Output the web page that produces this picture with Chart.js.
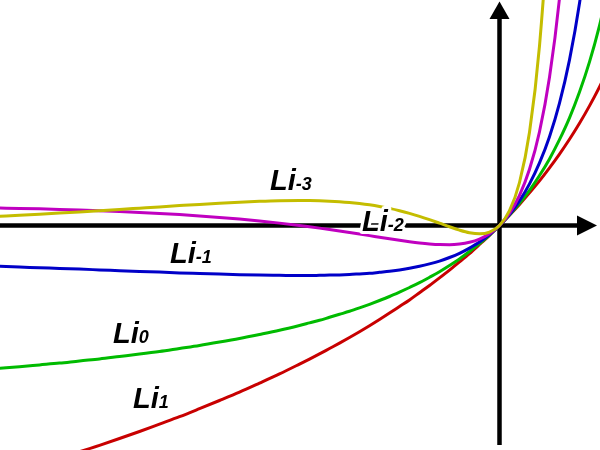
<!DOCTYPE html>
<html>
<head>
<meta charset="utf-8">
<script src="https://cdn.jsdelivr.net/npm/chart.js@4.4.1/dist/chart.umd.min.js"></script>
<style>
html,body{margin:0;padding:0;background:#fff;}
#wrap{width:600px;height:450px;}
</style>
</head>
<body>
<div id="wrap"><canvas id="c" width="600" height="450"></canvas></div>
<script>
const xs = [-2.5,-2.4,-2.3,-2.2,-2.1,-2.0,-1.9,-1.8,-1.7,-1.6,-1.5,-1.4,-1.3,-1.2,-1.1,-1.0,
  -0.95,-0.9,-0.85,-0.8,-0.75,-0.7,-0.65,-0.6,-0.55,-0.5,-0.45,-0.4,-0.35,-0.3,-0.25,-0.2,-0.15,-0.1,-0.05,
  0,0.05,0.1,0.15,0.2,0.25,0.3,0.35,0.4,0.45,0.5,0.55];

const li1 = [-1.253,-1.224,-1.194,-1.163,-1.131,-1.099,-1.065,-1.030,-0.993,-0.956,-0.916,-0.875,-0.833,-0.788,-0.742,-0.693,
  -0.668,-0.642,-0.615,-0.588,-0.560,-0.531,-0.501,-0.470,-0.438,-0.405,-0.372,-0.336,-0.300,-0.262,-0.223,-0.182,-0.140,-0.095,-0.049,
  0,0.051,0.105,0.163,0.223,0.288,0.357,0.431,0.511,0.598,0.693,0.799];

const li0 = [-0.714,-0.706,-0.697,-0.688,-0.677,-0.667,-0.655,-0.643,-0.630,-0.615,-0.600,-0.583,-0.565,-0.545,-0.524,-0.500,
  -0.487,-0.474,-0.459,-0.444,-0.429,-0.412,-0.394,-0.375,-0.355,-0.333,-0.310,-0.286,-0.259,-0.231,-0.200,-0.167,-0.130,-0.091,-0.048,
  0,0.053,0.111,0.176,0.250,0.333,0.429,0.538,0.667,0.818,1.000,1.222];

const liM1 = [-0.204,-0.208,-0.211,-0.215,-0.218,-0.222,-0.226,-0.230,-0.233,-0.237,-0.240,-0.243,-0.246,-0.248,-0.249,-0.250,
  -0.250,-0.249,-0.248,-0.247,-0.245,-0.242,-0.239,-0.234,-0.229,-0.222,-0.214,-0.204,-0.192,-0.178,-0.160,-0.139,-0.113,-0.083,-0.045,
  0,0.055,0.123,0.208,0.313,0.444,0.612,0.828,1.111,1.488,2.000,2.716];

const liM2 = [0.0875,0.0855,0.0832,0.0806,0.0775,0.0741,0.0701,0.0656,0.0605,0.0546,0.0480,0.0405,0.0321,0.0225,0.0119,0,
  -0.0064,-0.0131,-0.0201,-0.0274,-0.0350,-0.0427,-0.0506,-0.0586,-0.0665,-0.0741,-0.0812,-0.0875,-0.0925,-0.0956,-0.0960,-0.0926,-0.0838,-0.0676,-0.0410,
  0,0.061,0.151,0.281,0.469,0.741,1.137,1.721,2.593,3.922,6.000,9.355];

const liM3 = [0.0458,0.0510,0.0564,0.0621,0.0680,0.0741,0.0803,0.0867,0.0931,0.0994,0.1056,0.1114,0.1166,0.1209,0.1239,0.1250,
  0.1247,0.1236,0.1217,0.1189,0.1150,0.1098,0.1033,0.0952,0.0855,0.0741,0.0608,0.0458,0.0292,0.0116,-0.0064,-0.0231,-0.0362,-0.0417,-0.0330,
  0,0.074,0.215,0.466,0.898,1.630,2.861,4.946,8.52,14.77,26.0,46.97];

const seriesOrders = ["-3","-2","-1","0","1"];
const labelMain = "Li";

function pts(ys){ return xs.map((x,i)=>({x:x,y:ys[i]})); }

const colors = {"-3":"#c4bd00","-2":"#c000c0","-1":"#0000c8","0":"#00bb00","1":"#c80000"};
const seriesData = {"-3":liM3,"-2":liM2,"-1":liM1,"0":li0,"1":li1};

// label anchor positions in data coords (left edge, baseline)
const labelPos = {
  "-3":{x:-1.1475,y:0.1775},
  "-2":{x:-0.6875,y:-0.0275},
  "-1":{x:-1.6475,y:-0.1875},
  "0":{x:-1.9325,y:-0.5875},
  "1":{x:-1.8325,y:-0.9125}
};

const mainFont = 'italic bold 29px "Liberation Sans", Arial, sans-serif';
const subFont = 'italic bold 18px "Liberation Sans", Arial, sans-serif';

const axesPlugin = {
  id:'axesArrows',
  beforeDatasetsDraw(chart){
    const ctx = chart.ctx;
    const x0 = chart.scales.x.getPixelForValue(0);
    const y0 = chart.scales.y.getPixelForValue(0);
    ctx.save();
    ctx.strokeStyle = '#000';
    ctx.fillStyle = '#000';
    ctx.lineWidth = 4.5;
    ctx.lineCap = 'butt';
    ctx.beginPath();
    ctx.moveTo(0, y0);
    ctx.lineTo(579, y0);
    ctx.stroke();
    ctx.beginPath();
    ctx.moveTo(577, y0-10);
    ctx.lineTo(597, y0);
    ctx.lineTo(577, y0+10);
    ctx.closePath();
    ctx.fill();
    ctx.beginPath();
    ctx.moveTo(x0, 445);
    ctx.lineTo(x0, 17);
    ctx.stroke();
    ctx.beginPath();
    ctx.moveTo(x0-10, 19);
    ctx.lineTo(x0, 1.5);
    ctx.lineTo(x0+10, 19);
    ctx.closePath();
    ctx.fill();
    ctx.restore();
  },
  afterDatasetsDraw(chart){
    const ctx = chart.ctx;
    ctx.save();
    seriesOrders.forEach(s=>{
      const p = labelPos[s];
      const px = chart.scales.x.getPixelForValue(p.x);
      const py = chart.scales.y.getPixelForValue(p.y);
      ctx.font = mainFont;
      const w = ctx.measureText(labelMain).width;
      ctx.lineJoin = 'round';
      if (s === "-2") {
        ctx.strokeStyle = '#fff';
        ctx.lineWidth = 6;
        ctx.strokeText(labelMain, px, py);
        ctx.font = subFont;
        ctx.strokeText(s, px + w, py);
        ctx.font = mainFont;
      }
      ctx.fillStyle = '#000';
      ctx.fillText(labelMain, px, py);
      ctx.font = subFont;
      ctx.fillText(s, px + w, py);
    });
    ctx.restore();
  }
};

new Chart(document.getElementById('c'), {
  type:'scatter',
  data:{
    datasets: seriesOrders.map(s=>({
      label: labelMain + s,
      data: pts(seriesData[s]),
      showLine: true,
      borderColor: colors[s],
      borderWidth: 3,
      pointRadius: 0,
      fill: false,
      cubicInterpolationMode: 'monotone',
      tension: 0.4
    }))
  },
  options:{
    responsive:false,
    animation:false,
    devicePixelRatio:1,
    layout:{padding:0},
    plugins:{legend:{display:false},tooltip:{enabled:false},title:{display:false}},
    scales:{
      x:{type:'linear',min:-2.4975,max:0.5025,display:false},
      y:{type:'linear',min:-1.1225,max:1.1275,display:false}
    }
  },
  plugins:[axesPlugin]
});
</script>
</body>
</html>
